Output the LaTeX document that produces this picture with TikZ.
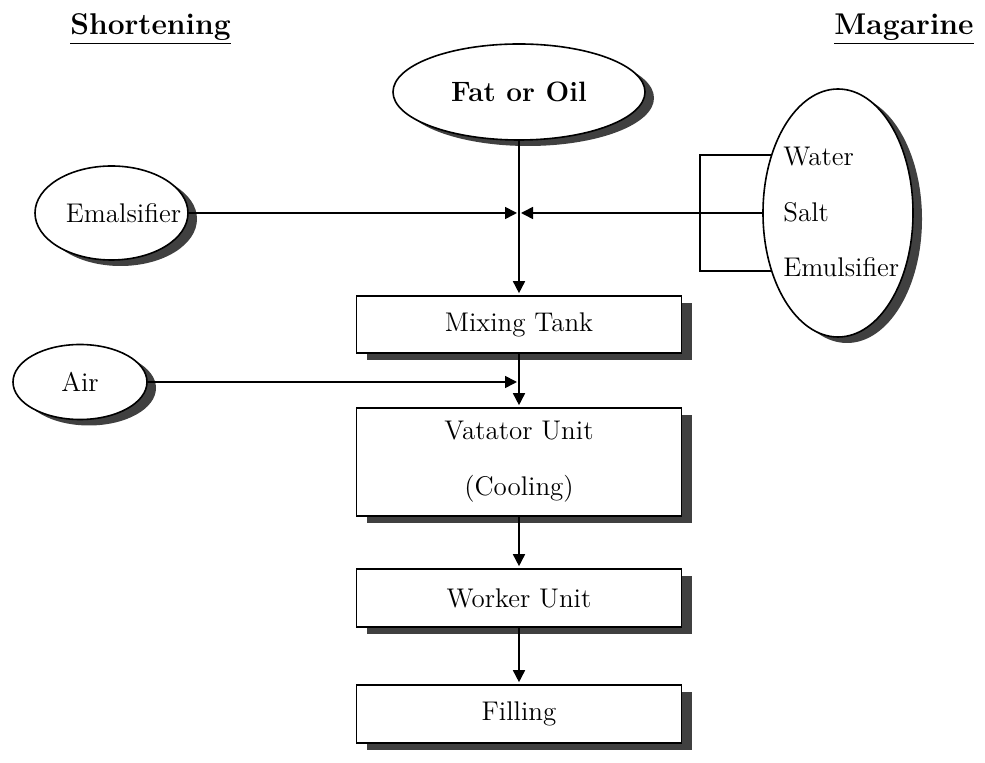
\documentclass[tikz,border=0pt]{standalone}
\usepackage{fontspec}
\usepackage{tikz}
\usetikzlibrary{arrows.meta,positioning,shapes.geometric,shadows}

\tikzset{
  box/.style={draw, line width=0.8pt, fill=white, minimum width=162.5pt, inner sep=2pt,
    font=\fontsize{13.5}{15}\selectfont,
    drop shadow={shadow xshift=5pt, shadow yshift=-3.5pt, fill=black!75, opacity=1}},
  ell/.style={ellipse, draw, line width=0.8pt, fill=white, inner sep=0pt,
    drop shadow={shadow xshift=4.5pt, shadow yshift=-3pt, fill=black!75, opacity=1}},
  txt/.style={font=\fontsize{13.5}{15}\selectfont, inner sep=0pt},
  heading/.style={font=\fontsize{15}{18}\selectfont\bfseries, inner sep=0pt},
  arr/.style={-{Triangle[length=6pt,width=6pt]}, line width=0.8pt, shorten >=1pt}
}

\begin{document}
\begin{tikzpicture}[x=0.5pt,y=-0.5pt,node distance=68pt,on grid]
  \useasboundingbox (0,0) rectangle (985,763);

  \node[heading, anchor=base] (t_short) at (150.5,35) {\underline{Shortening}};
  \node[heading, anchor=base] (t_marg) at (904,35) {\underline{Magarine}};

  \node[ell, minimum width=126pt, minimum height=48pt, font=\fontsize{14}{16}\selectfont\bfseries] (in_fat) at (519,92) {Fat or Oil};
  \node[ell, minimum width=76.5pt, minimum height=47pt, label={[txt,xshift=6pt]center:Emalsifier}] (in_emal) at (111.5,213) {};
  \node[ell, minimum width=75pt, minimum height=124pt] (in_marg) at (838,213) {};
  \node[ell, txt, minimum width=67pt, minimum height=37.5pt] (in_air) at (80,382) {Air};

  \node[txt, anchor=base west] (w_water) at (783,166) {Water};
  \node[txt, anchor=base west] (w_salt) at (783,222) {Salt};
  \node[txt, anchor=base west] (w_emul) at (783,277) {Emulsifier};

  \node[box, minimum height=28.5pt] (u_mix) [below=116.25pt of in_fat] {Mixing Tank};
  \node[box, minimum height=54pt, align=center] (u_vat) [below=68.75pt of u_mix] {Vatator Unit\\[13pt](Cooling)};
  \node[box, minimum height=29pt] (u_work) [below=of u_vat] {Worker Unit};
  \node[box, minimum height=29pt] (u_fill) [below=58pt of u_work] {Filling};

  \coordinate (j_1) at (519,213);
  \coordinate (j_2) at (519,382);
  \coordinate (b_mid) at (700,213);

  \path[arr]
    (in_fat)  edge (u_mix)
    (in_emal) edge (j_1)
    (in_marg) edge (j_1)
    (in_air)  edge (j_2)
    (u_mix)   edge (u_vat)
    (u_vat)   edge (u_work)
    (u_work)  edge (u_fill);
  \draw[line width=0.8pt] (in_marg.139) -| (b_mid) |- (in_marg.221);

\end{tikzpicture}
\end{document}
